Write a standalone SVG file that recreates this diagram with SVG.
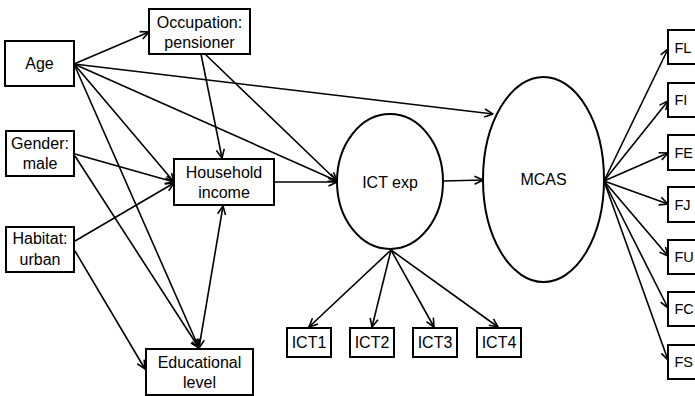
<svg xmlns="http://www.w3.org/2000/svg" width="695" height="396" viewBox="0 0 695 396">
<style>
.box{fill:#fff;stroke:#000;stroke-width:2}
.ell{fill:#fff;stroke:#000;stroke-width:2}
.t{font-family:"Liberation Sans",Arial,sans-serif;font-size:16px;fill:#000;text-anchor:middle}
.ts{font-family:"Liberation Sans",Arial,sans-serif;font-size:14.5px;fill:#000}
.c line{stroke:#000;stroke-width:1.6;fill:none}
</style>
<defs>
<marker id="ah" viewBox="0 0 10 10" refX="9.5" refY="5" markerWidth="10" markerHeight="10" markerUnits="userSpaceOnUse" orient="auto-start-reverse">
<path d="M1,1 L9.5,5 L1,9" fill="none" stroke="#000" stroke-width="1.6"/>
</marker>
</defs>
<g class="c" id="connectors">
<line x1="74" y1="64" x2="149" y2="32" marker-end="url(#ah)"/>
<line x1="74" y1="64" x2="493" y2="114" marker-end="url(#ah)"/>
<line x1="74" y1="64" x2="337" y2="181" marker-end="url(#ah)"/>
<line x1="74" y1="64" x2="174" y2="182" marker-end="url(#ah)"/>
<line x1="74" y1="64" x2="199" y2="348" marker-end="url(#ah)"/>
<line x1="201" y1="54" x2="222" y2="158" marker-end="url(#ah)"/>
<line x1="205" y1="54" x2="337" y2="181" marker-end="url(#ah)"/>
<line x1="75" y1="154" x2="174" y2="182" marker-end="url(#ah)"/>
<line x1="75" y1="156" x2="199" y2="348" marker-end="url(#ah)"/>
<line x1="75" y1="241" x2="174" y2="183" marker-end="url(#ah)"/>
<line x1="75" y1="251" x2="145" y2="369" marker-end="url(#ah)"/>
<line x1="199" y1="348" x2="223" y2="206" marker-start="url(#ah)" marker-end="url(#ah)"/>
<line x1="274" y1="182" x2="337" y2="182" marker-end="url(#ah)"/>
<line x1="443" y1="181" x2="483" y2="180" marker-end="url(#ah)"/>
<line x1="391" y1="250" x2="309" y2="327" marker-end="url(#ah)"/>
<line x1="391" y1="250" x2="372" y2="327" marker-end="url(#ah)"/>
<line x1="391" y1="250" x2="434" y2="327" marker-end="url(#ah)"/>
<line x1="391" y1="250" x2="498" y2="327" marker-end="url(#ah)"/>
<line x1="604" y1="181" x2="668" y2="49" marker-end="url(#ah)"/>
<line x1="604" y1="181" x2="668" y2="101" marker-end="url(#ah)"/>
<line x1="604" y1="181" x2="668" y2="153" marker-end="url(#ah)"/>
<line x1="604" y1="181" x2="668" y2="204" marker-end="url(#ah)"/>
<line x1="604" y1="181" x2="668" y2="256" marker-end="url(#ah)"/>
<line x1="604" y1="181" x2="668" y2="308" marker-end="url(#ah)"/>
<line x1="604" y1="181" x2="668" y2="360" marker-end="url(#ah)"/>
</g>
<g id="age"><rect class="box" x="5" y="41" width="69" height="45"/><text class="t" x="39.5" y="69">Age</text></g>
<g id="occupation"><rect class="box" x="149" y="9" width="101" height="45"/><text class="t" x="199.5" y="28">Occupation:</text><text class="t" x="199.5" y="48">pensioner</text></g>
<g id="gender"><rect class="box" x="6" y="131" width="68" height="45"/><text class="t" x="40" y="149">Gender:</text><text class="t" x="40" y="169">male</text></g>
<g id="habitat"><rect class="box" x="6" y="227" width="68" height="45"/><text class="t" x="40" y="244">Habitat:</text><text class="t" x="40" y="265">urban</text></g>
<g id="household"><rect class="box" x="174" y="159" width="100" height="46"/><text class="t" x="224" y="178">Household</text><text class="t" x="224" y="198">income</text></g>
<g id="education"><rect class="box" x="146" y="349" width="107" height="46"/><text class="t" x="199.5" y="368">Educational</text><text class="t" x="199.5" y="388">level</text></g>
<g id="ictexp"><ellipse class="ell" cx="390" cy="181.5" rx="53" ry="67.5"/><text class="t" x="390" y="188">ICT exp</text></g>
<g id="mcas"><ellipse class="ell" cx="543.5" cy="179.5" rx="60.5" ry="102.5"/><text class="t" x="543.5" y="185">MCAS</text></g>
<g id="ict1"><rect class="box" x="287" y="328" width="44" height="29"/><text class="t" x="309" y="348">ICT1</text></g>
<g id="ict2"><rect class="box" x="350" y="328" width="44" height="29"/><text class="t" x="372" y="348">ICT2</text></g>
<g id="ict3"><rect class="box" x="413" y="328" width="44" height="29"/><text class="t" x="435" y="348">ICT3</text></g>
<g id="ict4"><rect class="box" x="477" y="328" width="44" height="29"/><text class="t" x="499" y="348">ICT4</text></g>
<g id="fl"><rect class="box" x="668" y="30" width="36" height="34"/><text class="ts" x="674.5" y="53">FL</text></g>
<g id="fi"><rect class="box" x="668" y="83" width="36" height="34"/><text class="ts" x="674.5" y="105">FI</text></g>
<g id="fe"><rect class="box" x="668" y="135" width="36" height="35"/><text class="ts" x="674.5" y="158">FE</text></g>
<g id="fj"><rect class="box" x="668" y="187" width="36" height="35"/><text class="ts" x="674.5" y="210">FJ</text></g>
<g id="fu"><rect class="box" x="668" y="240" width="36" height="34"/><text class="ts" x="674.5" y="262">FU</text></g>
<g id="fc"><rect class="box" x="668" y="292" width="36" height="34"/><text class="ts" x="674.5" y="314">FC</text></g>
<g id="fs"><rect class="box" x="668" y="345" width="36" height="34"/><text class="ts" x="674.5" y="367">FS</text></g>
</svg>
